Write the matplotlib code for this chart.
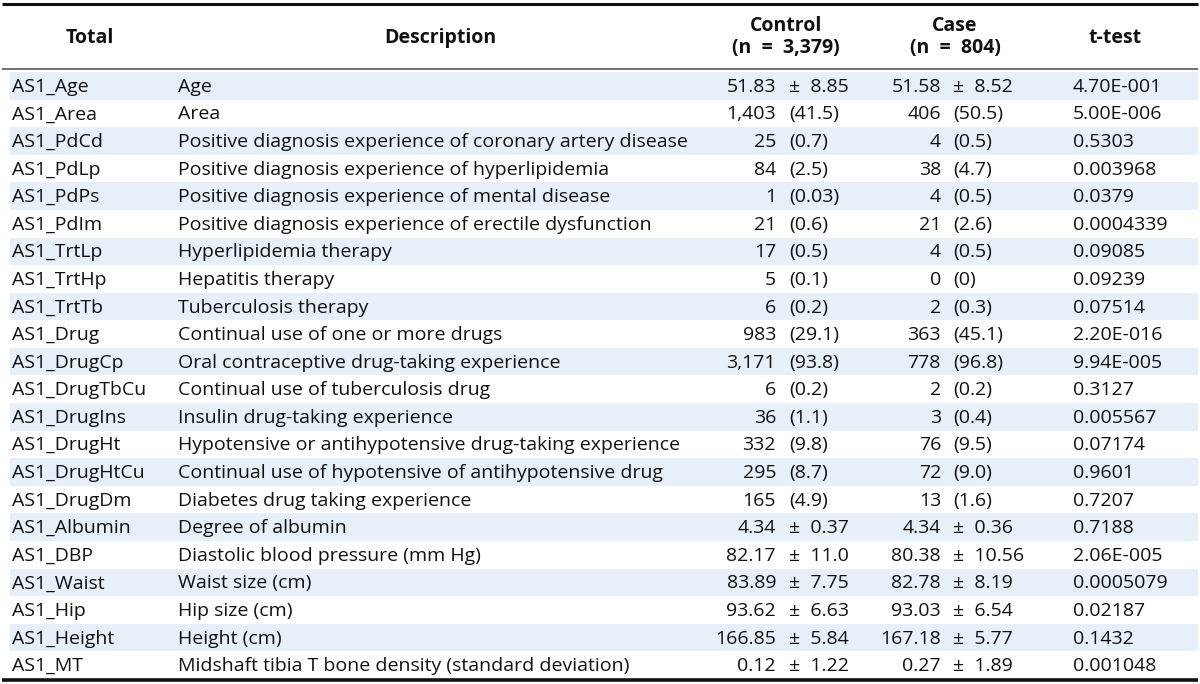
"""Table: baseline characteristics of control vs case groups."""
import matplotlib
matplotlib.use("Agg")
import matplotlib.pyplot as plt
from matplotlib.patches import Rectangle

codes = ["AS1_Age", "AS1_Area", "AS1_PdCd", "AS1_PdLp", "AS1_PdPs", "AS1_PdIm",
         "AS1_TrtLp", "AS1_TrtHp", "AS1_TrtTb", "AS1_Drug", "AS1_DrugCp",
         "AS1_DrugTbCu", "AS1_DrugIns", "AS1_DrugHt", "AS1_DrugHtCu", "AS1_DrugDm",
         "AS1_Albumin", "AS1_DBP", "AS1_Waist", "AS1_Hip", "AS1_Height", "AS1_MT"]
descriptions = [
    "Age", "Area",
    "Positive diagnosis experience of coronary artery disease",
    "Positive diagnosis experience of hyperlipidemia",
    "Positive diagnosis experience of mental disease",
    "Positive diagnosis experience of erectile dysfunction",
    "Hyperlipidemia therapy", "Hepatitis therapy", "Tuberculosis therapy",
    "Continual use of one or more drugs",
    "Oral contraceptive drug-taking experience",
    "Continual use of tuberculosis drug",
    "Insulin drug-taking experience",
    "Hypotensive or antihypotensive drug-taking experience",
    "Continual use of hypotensive of antihypotensive drug",
    "Diabetes drug taking experience",
    "Degree of albumin", "Diastolic blood pressure (mm Hg)",
    "Waist size (cm)", "Hip size (cm)", "Height (cm)",
    "Midshaft tibia T bone density (standard deviation)"]
control_main = ["51.83", "1,403", "25", "84", "1", "21", "17", "5", "6", "983", "3,171",
                "6", "36", "332", "295", "165", "4.34", "82.17", "83.89", "93.62",
                "166.85", "0.12"]
control_extra = ["± 8.85", "(41.5)", "(0.7)", "(2.5)", "(0.03)", "(0.6)", "(0.5)", "(0.1)",
                 "(0.2)", "(29.1)", "(93.8)", "(0.2)", "(1.1)", "(9.8)", "(8.7)", "(4.9)",
                 "± 0.37", "± 11.0", "± 7.75", "± 6.63", "± 5.84", "± 1.22"]
case_main = ["51.58", "406", "4", "38", "4", "21", "4", "0", "2", "363", "778", "2", "3",
             "76", "72", "13", "4.34", "80.38", "82.78", "93.03", "167.18", "0.27"]
case_extra = ["± 8.52", "(50.5)", "(0.5)", "(4.7)", "(0.5)", "(2.6)", "(0.5)", "(0)",
              "(0.3)", "(45.1)", "(96.8)", "(0.2)", "(0.4)", "(9.5)", "(9.0)", "(1.6)",
              "± 0.36", "± 10.56", "± 8.19", "± 6.54", "± 5.77", "± 1.89"]
ttest = ["4.70E-001", "5.00E-006", "0.5303", "0.003968", "0.0379", "0.0004339",
         "0.09085", "0.09239", "0.07514", "2.20E-016", "9.94E-005", "0.3127",
         "0.005567", "0.07174", "0.9601", "0.7207", "0.7188", "2.06E-005",
         "0.0005079", "0.02187", "0.1432", "0.001048"]

plt.rcParams["font.family"] = ["Open Sans", "DejaVu Sans"]

W, H = 1200, 684
fig = plt.figure(figsize=(12, 6.84), dpi=100)
ax = fig.add_axes([0, 0, 1, 1])
ax.set_xlim(0, W); ax.set_ylim(H, 0); ax.axis("off")

fs = 14
shade = "#e7eff8"
x0, x1 = 2, 1198
top, head_bot, bottom = 4, 69, 680
rh = (bottom - head_bot - 4) / len(codes)

# rules
ax.plot([x0, x1], [top, top], color="#111", lw=2.2, solid_capstyle="butt")
ax.plot([x0, x1], [head_bot, head_bot], color="#666", lw=1.3, solid_capstyle="butt")
ax.plot([x0, x1], [bottom, bottom], color="#111", lw=2.6, solid_capstyle="butt")

# header
hkw = dict(fontsize=fs, fontweight="bold", ha="center", va="center", color="#111")
ax.text(90, 38, "Total", **hkw)
ax.text(440, 38, "Description", **hkw)
ax.text(786, 26, "Control", **hkw)
ax.text(786, 48, "(n  =  3,379)", **hkw)
ax.text(955, 26, "Case", **hkw)
ax.text(955, 48, "(n  =  804)", **hkw)
ax.text(1115, 38, "t-test", **hkw)

kw = dict(fontsize=fs, va="center", color="#111")
ytop = head_bot + 3
for i in range(len(codes)):
    y0 = ytop + i * rh
    if i % 2 == 0:
        ax.add_patch(Rectangle((x0 + 8, y0), x1 - x0 - 8, rh, color=shade, lw=0, zorder=0))
    yc = y0 + rh / 2 + 1
    ax.text(12, yc, codes[i], ha="left", **kw)
    ax.text(178, yc, descriptions[i], ha="left", **kw)
    ax.text(776, yc, control_main[i], ha="right", **kw)
    ax.text(789, yc, control_extra[i].replace("± ", "±  "), ha="left", **kw)
    ax.text(941, yc, case_main[i], ha="right", **kw)
    ax.text(953, yc, case_extra[i].replace("± ", "±  "), ha="left", **kw)
    ax.text(1073, yc, ttest[i], ha="left", **kw)

fig.savefig("out.png", dpi=100)
